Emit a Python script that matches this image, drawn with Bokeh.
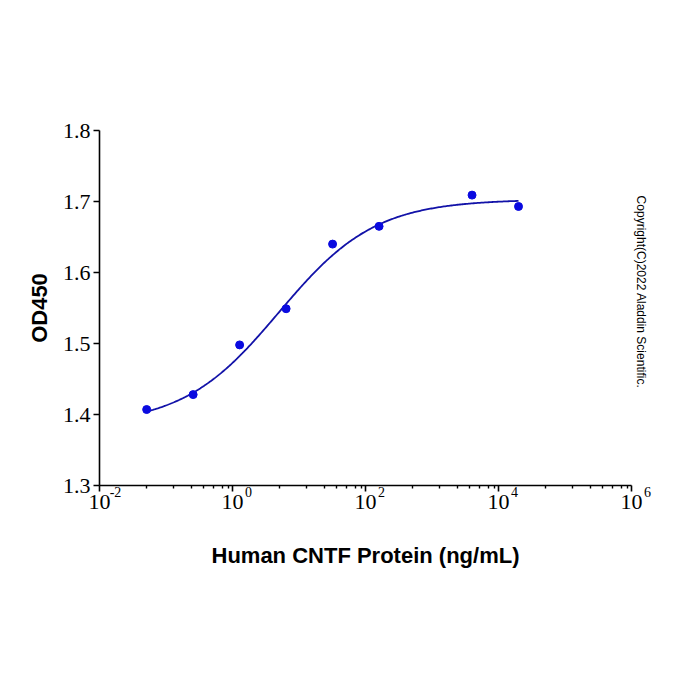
import math
import numpy as np
from bokeh.plotting import figure
from bokeh.core.properties import value
from bokeh.models import (ColumnDataSource, FixedTicker, CustomJSTickFormatter, LinearAxis,
                          LinearScale, Range1d, Title)
from bokeh.embed import file_html
from bokeh.resources import INLINE

# Measured OD450 for the CNTF dilution series
concentration = [0.0512, 0.256, 1.28, 6.4, 32, 160, 4000, 20000]   # ng/mL
od450 = [1.407, 1.428, 1.498, 1.549, 1.640, 1.665, 1.709, 1.693]

# Four-parameter logistic fit of the series
fit_bottom = 1.385
fit_top = 1.703
fit_ec50 = 5.0
fit_hill = 0.6

x_major_ticks = [1e-2, 1e0, 1e2, 1e4, 1e6]
y_ticks = [1.3, 1.4, 1.5, 1.6, 1.7, 1.8]

# minor ticks within each two-decade step, as offsets in decades
minor_offsets = [0.71, 1.11, 1.386, 1.571, 1.72, 1.846, 1.937]
x_minor_ticks = [m * 10 ** d for m in x_major_ticks[:-1] for d in minor_offsets]

x_title = "Human CNTF Protein (ng/mL)"
y_title = "OD450"
copyright_text = "Copyright(C)2022 Aladdin Scientific."

# axis geometry: the drawn axis covers 1e-2..1e6 over 532 px; the frame runs a
# little further right so the last exponent still has room
X_LO, X_HI = 1e-2, 1e6
AXIS_W = 532
FRAME_W = 551
decades = math.log10(X_HI / X_LO)
px_per_dec = AXIS_W / decades
X_VIEW_HI = X_HI * 10 ** ((FRAME_W - AXIS_W) / px_per_dec)
Y_LO, Y_HI = 1.3, 1.8

fit_x = np.logspace(math.log10(min(concentration)), math.log10(max(concentration)), 300)
fit_y = fit_bottom + (fit_top - fit_bottom) / (1 + (fit_ec50 / fit_x) ** fit_hill)

p = figure(width=700, height=700, x_axis_type="log",
           x_range=(X_LO, X_VIEW_HI), y_range=(Y_LO, Y_HI),
           output_backend="svg", toolbar_location=None,
           min_border_left=99, min_border_right=700 - 99 - FRAME_W,
           min_border_top=130, min_border_bottom=215)
p.outline_line_color = None
p.grid.visible = False
p.background_fill_color = "white"
p.border_fill_color = "white"

p.line(fit_x, fit_y, line_color="#1212a8", line_width=1.8)
p.scatter(x="x", y="y", source=ColumnDataSource(dict(x=concentration, y=od450)),
          size=8, fill_color="#0a0ae0", line_color="#0a0ae0")

# main x axis: ticks and the "10" of each power
xa = p.xaxis[0]
xa.bounds = (X_LO, X_HI)
xa.ticker = FixedTicker(ticks=x_major_ticks, minor_ticks=x_minor_ticks)
xa.formatter = CustomJSTickFormatter(code="return '10';")

# exponent row: a pixel-unit axis whose ticks sit just right of each "10"
shift_px = 16
exp_pos = [px_per_dec * math.log10(t / X_LO) + shift_px for t in x_major_ticks]
p.extra_x_ranges = {"exp": Range1d(0, FRAME_W)}
p.extra_x_scales = {"exp": LinearScale()}
exp_axis = LinearAxis(
    x_range_name="exp", ticker=FixedTicker(ticks=exp_pos),
    formatter=CustomJSTickFormatter(
        args=dict(lo=math.log10(X_LO), ppd=px_per_dec, shift=shift_px),
        code="return String(Math.round(lo + (tick - shift) / ppd));"))
exp_axis.axis_line_color = None
exp_axis.major_tick_line_color = None
exp_axis.minor_tick_line_color = None
exp_axis.major_tick_in = 0
exp_axis.major_tick_out = 0
exp_axis.major_label_standoff = -25
exp_axis.major_label_text_font = "Liberation Serif"
exp_axis.major_label_text_font_size = "14px"
exp_axis.major_label_text_color = "black"
p.add_layout(exp_axis, "below")

# x axis title, set under the drawn part of the axis
p.add_layout(Title(text=x_title, align="left", offset=112, vertical_align="top",
                   standoff=63, text_font="Liberation Sans", text_font_size="22px",
                   text_font_style="bold", text_color="black"), "below")

ya = p.yaxis[0]
ya.ticker = FixedTicker(ticks=y_ticks)
ya.formatter = CustomJSTickFormatter(code="return tick.toFixed(1);")
ya.axis_label = y_title
ya.axis_label_standoff = 8
ya.minor_tick_line_color = None

for ax in (xa, ya):
    ax.axis_line_color = "black"
    ax.axis_line_width = 1.6
    ax.major_tick_line_color = "black"
    ax.major_tick_line_width = 1.6
    ax.major_tick_in = 0
    ax.major_tick_out = 6
    ax.major_label_standoff = 3
    ax.major_label_text_font = "Liberation Serif"
    ax.major_label_text_font_size = "22px"
    ax.major_label_text_color = "black"
    ax.axis_label_text_font = "Liberation Sans"
    ax.axis_label_text_font_size = "22px"
    ax.axis_label_text_font_style = "bold"
    ax.axis_label_text_color = "black"

xa.minor_tick_line_color = "black"
xa.minor_tick_line_width = 1.4
xa.minor_tick_in = 0
xa.minor_tick_out = 3

# copyright notice, set vertically at the right edge of the plot area
copy_x = X_LO * 10 ** ((640 - 99) / px_per_dec)
copy_y = Y_HI - (291.5 - 130) / 355 * (Y_HI - Y_LO)
p.text(x=[copy_x], y=[copy_y], text=[copyright_text], angle=-math.pi / 2,
       text_align="center", text_baseline="middle",
       text_font=value("Liberation Sans"), text_font_size=value("12px"),
       text_color="black")

open("out.html", "w").write(file_html(p, INLINE))
